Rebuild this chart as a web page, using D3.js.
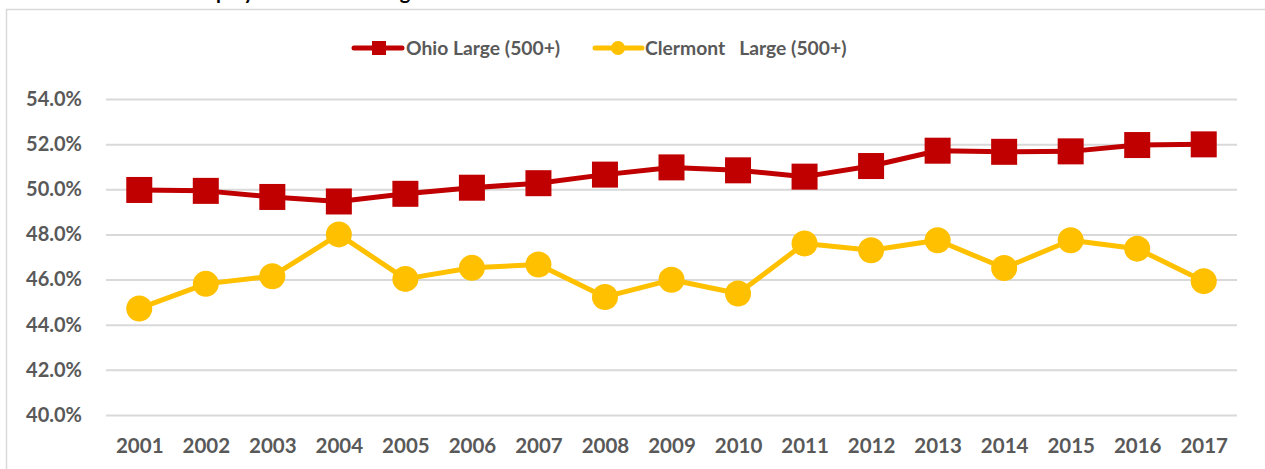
<!DOCTYPE html>
<html>
<head>
<meta charset="utf-8">
<script src="https://cdn.jsdelivr.net/npm/d3@7"></script>
<style>
  html, body { margin: 0; padding: 0; background: #fff; overflow: hidden; }
  svg { display: block; font-family: Lato, "Open Sans", sans-serif; }
</style>
</head>
<body>
<svg id="chart" width="1265" height="469"></svg>
<script>
const years = ["2001","2002","2003","2004","2005","2006","2007","2008","2009","2010","2011","2012","2013","2014","2015","2016","2017"];
const ohioLarge = [49.97, 49.93, 49.66, 49.46, 49.80, 50.07, 50.27, 50.65, 50.97, 50.84, 50.56, 51.03, 51.71, 51.66, 51.68, 51.96, 51.99];
const clermontLarge = [44.72, 45.81, 46.15, 48.00, 46.03, 46.52, 46.67, 45.23, 45.99, 45.38, 47.60, 47.30, 47.74, 46.51, 47.74, 47.37, 45.93];
const yTicks = [40, 42, 44, 46, 48, 50, 52, 54];
const seriesNames = ["Ohio Large (500+)", "Clermont   Large (500+)"];
const titleText = "Employment Rate in Large Establishments";

const svg = d3.select("#chart");
const textColor = "#595959";
const gridColor = "#d9d9d9";
const red = "#C00000";
const yellow = "#FFC000";

// chart border (extends past the visible window)
svg.append("rect")
  .attr("x", 6.5).attr("y", 9.5)
  .attr("width", 1400).attr("height", 600)
  .attr("fill", "none").attr("stroke", gridColor).attr("stroke-width", 1.5);

// title, cut off by the top edge as in the reference
svg.append("text")
  .attr("x", 188).attr("y", -1)
  .attr("font-size", 20).attr("font-weight", "bold")
  .attr("fill", "#000")
  .text(titleText);

const x = d3.scalePoint().domain(years).range([106, 1237]).padding(0.5);
const y = d3.scaleLinear().domain([40, 54]).range([415, 99]);

// gridlines + y labels
const yAxis = d3.axisLeft(y).tickValues(yTicks)
  .tickSize(-(1237 - 106)).tickPadding(24)
  .tickFormat(d => d3.format(".1f")(d) + "%");
const gy = svg.append("g").attr("transform", "translate(106,0)").call(yAxis);
gy.select(".domain").remove();
gy.selectAll(".tick line").attr("stroke", gridColor).attr("stroke-width", 2);
gy.selectAll(".tick text")
  .attr("fill", textColor).attr("font-size", 20).attr("font-weight", "bold")
  .attr("font-family", "Lato, sans-serif");

const xAxis = d3.axisBottom(x).tickSize(0).tickPadding(23);
const gx = svg.append("g").attr("transform", "translate(0,415)").call(xAxis);
gx.select(".domain").remove();
gx.selectAll(".tick text")
  .attr("fill", textColor).attr("font-size", 20.5).attr("font-weight", "bold")
  .attr("font-family", "Lato, sans-serif");

const line = d3.line().x((d, i) => x(years[i])).y(d => y(d));

// Ohio series
svg.append("path").datum(ohioLarge)
  .attr("d", line).attr("fill", "none")
  .attr("stroke", red).attr("stroke-width", 5).attr("stroke-linejoin", "round");
const sq = 26;
svg.append("g").selectAll("rect").data(ohioLarge).join("rect")
  .attr("x", (d, i) => x(years[i]) - sq / 2)
  .attr("y", d => y(d) - sq / 2)
  .attr("width", sq).attr("height", sq)
  .attr("fill", red);

// Clermont series
svg.append("path").datum(clermontLarge)
  .attr("d", line).attr("fill", "none")
  .attr("stroke", yellow).attr("stroke-width", 5).attr("stroke-linejoin", "round");
svg.append("g").selectAll("circle").data(clermontLarge).join("circle")
  .attr("cx", (d, i) => x(years[i]))
  .attr("cy", d => y(d))
  .attr("r", 13)
  .attr("fill", yellow);

// legend
const lg = svg.append("g");
const legendY = 48;
const legendFont = 19.3;
lg.append("line").attr("x1", 354).attr("x2", 402).attr("y1", legendY).attr("y2", legendY)
  .attr("stroke", red).attr("stroke-width", 5).attr("stroke-linecap", "round");
lg.append("rect").attr("x", 379 - 7).attr("y", legendY - 7).attr("width", 14).attr("height", 14).attr("fill", red);
lg.append("text").attr("x", 406).attr("y", legendY).attr("dy", "0.35em")
  .attr("font-size", legendFont).attr("font-weight", "bold").attr("fill", textColor)
  .text(seriesNames[0]);
lg.append("line").attr("x1", 595).attr("x2", 642).attr("y1", legendY).attr("y2", legendY)
  .attr("stroke", yellow).attr("stroke-width", 5).attr("stroke-linecap", "round");
lg.append("circle").attr("cx", 618).attr("cy", legendY).attr("r", 7).attr("fill", yellow);
lg.append("text").attr("x", 645).attr("y", legendY).attr("dy", "0.35em")
  .attr("font-size", legendFont).attr("font-weight", "bold").attr("fill", textColor)
  .style("white-space", "pre")
  .text(seriesNames[1]);
</script>
</body>
</html>
